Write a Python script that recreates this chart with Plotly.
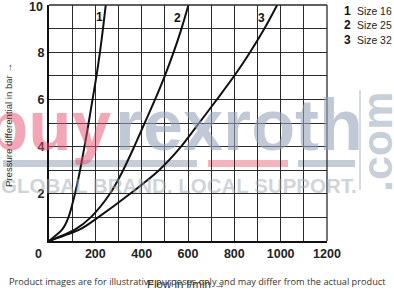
import plotly.graph_objects as go

# ---- data ----
pressure = [0, 0.5, 1, 2, 3, 4, 5, 6, 7, 8, 9, 10]
flow_size16 = [0, 58, 84, 112, 134, 153, 171, 188, 205, 220, 233, 245]
flow_size25 = [0, 115, 180, 263, 320, 368, 413, 458, 500, 538, 572, 602]
flow_size32 = [0, 135, 212, 350, 475, 570, 648, 725, 800, 868, 930, 985]

curve_names = ["1", "2", "3"]
legend_labels = ["Size 16", "Size 25", "Size 32"]
curve_label_pos = [(216, 9.48), (556, 9.46), (916, 9.46)]

x_grid = list(range(0, 1300, 100))
x_tick_labels = ["", "", "200", "", "400", "", "600", "", "800", "", "1000", "", "1200"]
y_grid = list(range(0, 11))
y_tick_labels = ["", "", "2", "", "4", "", "6", "", "8", "", "10"]

W, H = 394, 290
L, R, T, B = 49, 67, 5, 49
PW, PH = W - L - R, H - T - B


def px(x):
    return (x - L) / PW


def py(y):
    return (H - B - y) / PH


fig = go.Figure()
for flows, name in zip([flow_size16, flow_size25, flow_size32], curve_names):
    fig.add_trace(go.Scatter(x=flows, y=pressure, mode="lines", name=name,
                             line=dict(color="#111", width=2, shape="spline", smoothing=0.8),
                             hoverinfo="skip", cliponaxis=False))

tickfont = dict(family="Liberation Sans, Arial, sans-serif", size=12.5, color="#222", weight="bold")
# the top label ("10") sits a little below its grid line in the reference -> drawn as an annotation
y_axis_text = y_tick_labels[:-1] + [""]
fig.update_xaxes(range=[0, 1200], tickmode="array", tickvals=x_grid, ticktext=x_tick_labels,
                 showgrid=True, gridcolor="#2a2a2a", gridwidth=1, zeroline=False,
                 showline=True, linecolor="#111", linewidth=2, ticks="", tickfont=tickfont,
                 ticklabeloverflow="allow", automargin=False, fixedrange=True)
fig.update_yaxes(range=[0, 10], tickmode="array", tickvals=y_grid, ticktext=y_axis_text,
                 showgrid=True, gridcolor="#2a2a2a", gridwidth=1, zeroline=False,
                 showline=True, linecolor="#111", linewidth=2, ticks="", tickfont=tickfont,
                 ticklabeloverflow="allow", automargin=False, fixedrange=True)

narrow = "Liberation Sans Narrow, Arial Narrow, Liberation Sans, sans-serif"
ann = []
# watermark
ann.append(dict(x=px(114), y=py(125), xref="paper", yref="paper", text="<b>buy</b>", showarrow=False,
                xanchor="right", yanchor="middle",
                font=dict(family="Liberation Sans, Arial", size=71, color="rgba(232,80,110,0.5)")))
ann.append(dict(x=px(113), y=py(125), xref="paper", yref="paper", text="<b>rexroth</b>", showarrow=False,
                xanchor="left", yanchor="middle",
                font=dict(family="Liberation Sans, Arial", size=72, color="rgba(150,165,185,0.6)")))
ann.append(dict(x=px(179), y=py(185), xref="paper", yref="paper", text="<b>GLOBAL BRAND. LOCAL SUPPORT.</b>",
                showarrow=False, xanchor="center", yanchor="middle",
                font=dict(family="Liberation Sans, Arial", size=20.5, color="rgba(160,170,180,0.5)")))
ann.append(dict(x=px(377), y=py(142), xref="paper", yref="paper", text="<b>.com</b>", showarrow=False,
                textangle=-90, xanchor="center", yanchor="middle",
                font=dict(family="Liberation Sans, Arial", size=43, color="rgba(150,165,185,0.55)")))

# curve labels
for name, (qx, qy) in zip(curve_names, curve_label_pos):
    ann.append(dict(x=qx, y=qy, text="<b>%s</b>" % name, showarrow=False, xanchor="center", yanchor="middle",
                    font=dict(family="Liberation Sans, Arial", size=12, color="#111")))
# legend
for i, (name, lab) in enumerate(zip(curve_names, legend_labels)):
    yy = 11 + i * 14.5
    ann.append(dict(x=px(347), y=py(yy), xref="paper", yref="paper", text="<b>%s</b>" % name,
                    showarrow=False, xanchor="center", yanchor="middle",
                    font=dict(family="Liberation Sans, Arial", size=12, color="#111")))
    ann.append(dict(x=px(355), y=py(yy), xref="paper", yref="paper", text=lab,
                    showarrow=False, xanchor="left", yanchor="middle",
                    font=dict(family=narrow, size=10.4, color="#222")))
# origin label and top y label
ann.append(dict(x=px(38), y=py(254), xref="paper", yref="paper", text="<b>0</b>", showarrow=False,
                xanchor="center", yanchor="middle", font=tickfont))
ann.append(dict(x=px(45), y=py(7), xref="paper", yref="paper", text="<b>%s</b>" % y_tick_labels[-1],
                showarrow=False, xanchor="right", yanchor="middle", font=tickfont))
# axis titles
ann.append(dict(x=px(8), y=py(125), xref="paper", yref="paper", text="Pressure differential in bar \u2192",
                showarrow=False, textangle=-90, xanchor="center", yanchor="middle",
                font=dict(family=narrow, size=9.6, color="#333")))
ann.append(dict(x=px(186), y=py(284), xref="paper", yref="paper", text="Flow in l/min \u2192",
                showarrow=False, xanchor="center", yanchor="middle",
                font=dict(family=narrow, size=11.5, color="#333")))
# disclaimer
ann.append(dict(x=px(197), y=py(281), xref="paper", yref="paper",
                text="Product images are for illustrative purposes only and may differ from the actual product",
                showarrow=False, xanchor="center", yanchor="middle",
                font=dict(family="Open Sans, DejaVu Sans, sans-serif", size=9.2, color="#333")))

shapes = [
    dict(type="rect", xref="paper", yref="paper", x0=px(3), x1=px(197), y0=py(167), y1=py(160),
         fillcolor="rgb(198,205,214)", line=dict(width=0), layer="below"),
    dict(type="rect", xref="paper", yref="paper", x0=px(208), x1=px(288), y0=py(167), y1=py(160),
         fillcolor="rgb(243,180,190)", line=dict(width=0), layer="below"),
    dict(type="rect", xref="paper", yref="paper", x0=px(298), x1=px(355), y0=py(167), y1=py(160),
         fillcolor="rgb(198,205,214)", line=dict(width=0), layer="below"),
    dict(type="line", xref="paper", yref="paper", x0=px(360), x1=px(360), y0=py(90), y1=py(190),
         line=dict(color="rgb(215,220,226)", width=2), layer="below"),
    # top and right borders of the grid
    dict(type="line", xref="paper", yref="paper", x0=0, x1=1, y0=1, y1=1,
         line=dict(color="#2a2a2a", width=1.3), layer="above"),
    dict(type="line", xref="paper", yref="paper", x0=1, x1=1, y0=0, y1=1,
         line=dict(color="#2a2a2a", width=1.3), layer="above"),
]

fig.update_layout(width=W, height=H, margin=dict(l=L, r=R, t=T, b=B, pad=0, autoexpand=False),
                  plot_bgcolor="rgba(0,0,0,0)", paper_bgcolor="white", showlegend=False,
                  annotations=ann, shapes=shapes)

fig.write_html("out.html", config={"displayModeBar": False})
